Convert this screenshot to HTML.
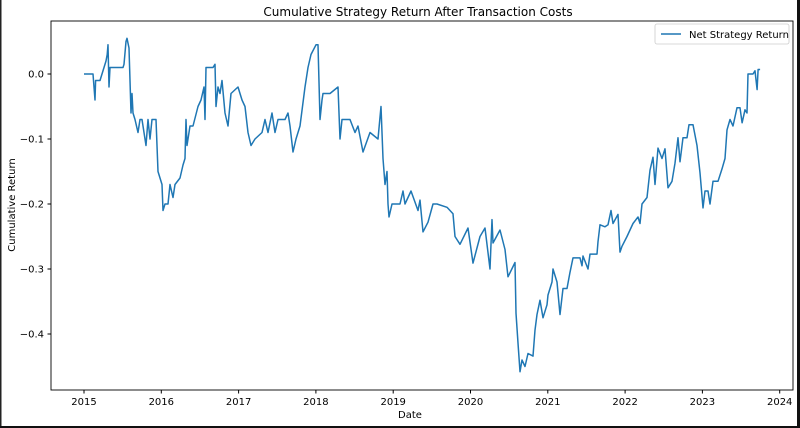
<!DOCTYPE html>
<html><head><meta charset="utf-8"><style>
body{margin:0;background:#fff;}
svg{display:block;font-family:"DejaVu Sans","Liberation Sans",sans-serif;}
</style></head><body>
<svg id="chart" width="800" height="428" viewBox="0 0 800 428">
<rect x="0" y="0" width="800" height="428" fill="#fff"/>
<rect x="0" y="0" width="1.5" height="428" fill="#222"/>
<rect x="797" y="0" width="3" height="428" fill="#111"/>
<rect x="0" y="426" width="800" height="2" fill="#111"/>
<text x="418" y="16" text-anchor="middle" font-size="12">Cumulative Strategy Return After Transaction Costs</text>
<g id="grid"></g>
<path id="series" fill="none" stroke="#1f77b4" stroke-width="1.5" stroke-linejoin="round"/>
<rect x="51" y="21" width="742" height="369" fill="none" stroke="#000" stroke-width="0.9"/>
<g id="xticks"></g><g id="yticks"></g>
<text x="410" y="418" text-anchor="middle" font-size="10">Date</text>
<text transform="translate(15,205) rotate(-90)" text-anchor="middle" font-size="10">Cumulative Return</text>
<g>
<rect x="655" y="24" width="134" height="20" rx="2" fill="#fff" stroke="#ccc" stroke-width="0.8"/>
<line x1="661" y1="34" x2="681" y2="34" stroke="#1f77b4" stroke-width="1.5"/>
<text x="689" y="38" font-size="10">Net Strategy Return</text>
</g>
</svg>
<script>
const dates=[2015.0,2015.116,2015.142,2015.15,2015.207,2015.233,2015.285,2015.3,2015.31,2015.323,2015.336,2015.505,2015.517,2015.543,2015.556,2015.582,2015.608,2015.621,2015.634,2015.66,2015.699,2015.724,2015.75,2015.802,2015.828,2015.854,2015.88,2015.931,2015.957,2016.009,2016.022,2016.048,2016.087,2016.113,2016.151,2016.177,2016.242,2016.281,2016.307,2016.32,2016.333,2016.371,2016.41,2016.475,2016.514,2016.552,2016.565,2016.578,2016.669,2016.695,2016.708,2016.734,2016.759,2016.785,2016.824,2016.863,2016.902,2016.992,2017.044,2017.083,2017.122,2017.16,2017.212,2017.303,2017.342,2017.38,2017.432,2017.471,2017.51,2017.6,2017.639,2017.665,2017.704,2017.743,2017.794,2017.859,2017.898,2017.937,2018.001,2018.027,2018.053,2018.079,2018.092,2018.182,2018.286,2018.312,2018.338,2018.441,2018.506,2018.545,2018.609,2018.7,2018.803,2018.842,2018.868,2018.894,2018.92,2018.933,2018.946,2018.984,2019.088,2019.127,2019.153,2019.23,2019.321,2019.347,2019.386,2019.45,2019.515,2019.567,2019.696,2019.774,2019.8,2019.864,2019.968,2020.032,2020.123,2020.187,2020.252,2020.278,2020.291,2020.381,2020.446,2020.485,2020.576,2020.589,2020.614,2020.64,2020.666,2020.705,2020.744,2020.809,2020.834,2020.86,2020.899,2020.938,2020.99,2021.003,2021.054,2021.067,2021.119,2021.158,2021.197,2021.248,2021.287,2021.326,2021.416,2021.442,2021.455,2021.52,2021.546,2021.637,2021.649,2021.675,2021.74,2021.779,2021.818,2021.843,2021.908,2021.934,2021.96,2022.025,2022.063,2022.102,2022.167,2022.193,2022.219,2022.283,2022.322,2022.361,2022.387,2022.426,2022.478,2022.516,2022.555,2022.607,2022.646,2022.684,2022.71,2022.749,2022.801,2022.827,2022.878,2022.93,2022.969,2023.008,2023.034,2023.072,2023.098,2023.137,2023.202,2023.254,2023.292,2023.318,2023.357,2023.396,2023.448,2023.487,2023.513,2023.551,2023.577,2023.59,2023.655,2023.681,2023.707,2023.72,2023.746];
const values=[0,0,-0.04,-0.01,-0.01,0.0,0.02,0.03,0.045,-0.02,0.01,0.01,0.015,0.05,0.055,0.04,-0.06,-0.03,-0.06,-0.07,-0.09,-0.07,-0.07,-0.11,-0.07,-0.1,-0.07,-0.07,-0.15,-0.17,-0.21,-0.2,-0.2,-0.17,-0.19,-0.17,-0.16,-0.14,-0.13,-0.07,-0.11,-0.08,-0.08,-0.05,-0.04,-0.02,-0.07,0.01,0.01,0.015,-0.05,-0.02,-0.03,-0.01,-0.06,-0.08,-0.03,-0.02,-0.04,-0.05,-0.09,-0.11,-0.1,-0.09,-0.07,-0.09,-0.06,-0.09,-0.07,-0.07,-0.06,-0.08,-0.12,-0.1,-0.08,-0.02,0.01,0.03,0.045,0.045,-0.07,-0.04,-0.03,-0.03,-0.02,-0.1,-0.07,-0.07,-0.09,-0.08,-0.12,-0.09,-0.1,-0.05,-0.13,-0.17,-0.15,-0.2,-0.22,-0.2,-0.2,-0.18,-0.2,-0.18,-0.21,-0.194,-0.243,-0.228,-0.2,-0.2,-0.205,-0.215,-0.25,-0.262,-0.237,-0.291,-0.25,-0.237,-0.3,-0.224,-0.26,-0.24,-0.27,-0.312,-0.29,-0.368,-0.414,-0.458,-0.44,-0.45,-0.43,-0.434,-0.394,-0.37,-0.348,-0.375,-0.355,-0.34,-0.32,-0.3,-0.32,-0.37,-0.33,-0.33,-0.305,-0.283,-0.283,-0.295,-0.28,-0.3,-0.277,-0.277,-0.258,-0.232,-0.235,-0.232,-0.21,-0.23,-0.216,-0.274,-0.265,-0.25,-0.24,-0.23,-0.22,-0.23,-0.2,-0.19,-0.148,-0.128,-0.17,-0.114,-0.13,-0.115,-0.175,-0.165,-0.137,-0.098,-0.135,-0.098,-0.098,-0.078,-0.078,-0.11,-0.152,-0.206,-0.18,-0.18,-0.2,-0.165,-0.165,-0.146,-0.13,-0.086,-0.07,-0.08,-0.052,-0.052,-0.075,-0.055,-0.06,0.0,0.0,0.005,-0.024,0.007,0.007];
const xTickLabels=["2015","2016","2017","2018","2019","2020","2021","2022","2023","2024"];
const yTickValues=[0.0,-0.1,-0.2,-0.3,-0.4];
const yTickLabels=["0.0","\u22120.1","\u22120.2","\u22120.3","\u22120.4"];
const NS="http://www.w3.org/2000/svg";
const xScale=y=>84+(y-2015)*77.3;
const yScale=v=>74-v*650;
let d="";
for(let i=0;i<dates.length;i++){d+=(i?"L":"M")+xScale(dates[i]).toFixed(1)+","+yScale(values[i]).toFixed(1);}
document.getElementById("series").setAttribute("d",d);
const xg=document.getElementById("xticks");
xTickLabels.forEach(l=>{
 const x=xScale(+l);
 const ln=document.createElementNS(NS,"line");
 ln.setAttribute("x1",x);ln.setAttribute("x2",x);ln.setAttribute("y1",390);ln.setAttribute("y2",393.5);ln.setAttribute("stroke","#000");
 
 
 xg.appendChild(ln);
 const t=document.createElementNS(NS,"text");
 t.setAttribute("x",x);t.setAttribute("y",405);t.setAttribute("text-anchor","middle");t.setAttribute("font-size","10");
 t.textContent=l;
 
 
 xg.appendChild(t);
});
const yg=document.getElementById("yticks");
yTickValues.forEach((v,i)=>{
 const y=yScale(v);
 const ln=document.createElementNS(NS,"line");
 ln.setAttribute("x1",47.5);ln.setAttribute("x2",51);ln.setAttribute("y1",y);ln.setAttribute("y2",y);ln.setAttribute("stroke","#000");
 
 
 yg.appendChild(ln);
 const t=document.createElementNS(NS,"text");
 t.setAttribute("x",44);t.setAttribute("y",y+3.5);t.setAttribute("text-anchor","end");t.setAttribute("font-size","10");
 t.textContent=yTickLabels[i];
 
 
 yg.appendChild(t);
});
</script>
</body></html>
